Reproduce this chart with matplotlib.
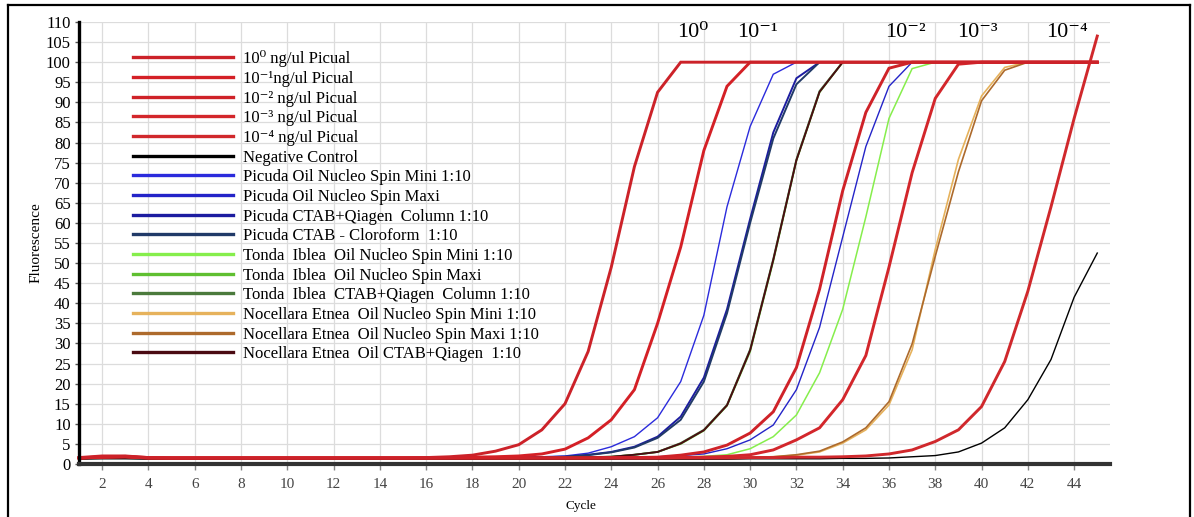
import matplotlib
matplotlib.use('Agg')
import matplotlib.pyplot as plt
from matplotlib.lines import Line2D

plt.rcParams['font.family'] = ['Liberation Serif', 'DejaVu Serif']

# qPCR amplification curves, cycles 1..45
cycles = list(range(1, 46))

picual_0 = [1.6, 2.0, 2.0, 1.6, 1.5, 1.5, 1.5, 1.5, 1.5, 1.5, 1.5, 1.5, 1.5, 1.5, 1.5,
            1.6, 1.8, 2.2, 3.2, 4.8, 8.5, 15.0, 28.0, 49.0, 74.0, 92.5, 100, 100, 100, 100,
            100, 100, 100, 100, 100, 100, 100, 100, 100, 100, 100, 100, 100, 100, 100]
picual_1 = [1.5, 1.8, 1.9, 1.6, 1.5, 1.5, 1.5, 1.5, 1.5, 1.5, 1.5, 1.5, 1.5, 1.5, 1.5,
            1.5, 1.6, 1.7, 1.8, 2.0, 2.5, 3.7, 6.5, 11.0, 18.5, 35.0, 54.0, 78.0, 94.0, 100,
            100, 100, 100, 100, 100, 100, 100, 100, 100, 100, 100, 100, 100, 100, 100]
picual_2 = [1.5, 1.7, 1.8, 1.5, 1.5, 1.5, 1.5, 1.5, 1.5, 1.5, 1.5, 1.5, 1.5, 1.5, 1.5,
            1.5, 1.5, 1.5, 1.5, 1.5, 1.5, 1.5, 1.5, 1.6, 1.6, 1.7, 2.2, 3.0, 4.7, 7.7,
            13.0, 24.0, 43.5, 68.0, 87.5, 98.5, 100, 100, 100, 100, 100, 100, 100, 100, 100]
picual_3 = [1.5, 1.7, 1.8, 1.5, 1.5, 1.5, 1.5, 1.5, 1.5, 1.5, 1.5, 1.5, 1.5, 1.5, 1.5,
            1.5, 1.5, 1.5, 1.5, 1.5, 1.5, 1.5, 1.5, 1.5, 1.5, 1.5, 1.6, 1.7, 1.9, 2.3,
            3.5, 6.0, 9.0, 16.0, 27.0, 49.0, 72.5, 91.0, 99.5, 100, 100, 100, 100, 100, 100]
picual_4 = [1.5, 1.7, 1.8, 1.5, 1.5, 1.5, 1.5, 1.5, 1.5, 1.5, 1.5, 1.5, 1.5, 1.5, 1.5,
            1.5, 1.5, 1.5, 1.5, 1.5, 1.5, 1.5, 1.5, 1.5, 1.5, 1.5, 1.5, 1.5, 1.5, 1.6,
            1.6, 1.7, 1.7, 1.8, 2.0, 2.5, 3.5, 5.6, 8.5, 14.3, 25.5, 43.0, 64.0, 86.0, 106.5]
neg_control = [1.2, 1.3, 1.3, 1.2, 1.2, 1.2, 1.2, 1.2, 1.2, 1.2, 1.2, 1.2, 1.2, 1.2, 1.2,
               1.2, 1.2, 1.2, 1.2, 1.2, 1.2, 1.2, 1.2, 1.2, 1.2, 1.2, 1.2, 1.2, 1.2, 1.3,
               1.3, 1.3, 1.3, 1.4, 1.4, 1.5, 1.8, 2.1, 3.0, 5.2, 9.0, 16.0, 26.0, 41.5, 52.5]
picuda_mini = [1.4, 1.6, 1.7, 1.4, 1.4, 1.4, 1.4, 1.4, 1.4, 1.4, 1.4, 1.4, 1.4, 1.4, 1.4,
               1.4, 1.5, 1.5, 1.6, 1.7, 1.8, 2.0, 2.7, 4.3, 6.8, 11.5, 20.5, 37.0, 64.0, 84.0,
               97.0, 100, 100, 100, 100, 100, 100, 100, 100, 100, 100, 100, 100, 100, 100]
picuda_maxi = [1.4, 1.6, 1.7, 1.4, 1.4, 1.4, 1.4, 1.4, 1.4, 1.4, 1.4, 1.4, 1.4, 1.4, 1.4,
               1.4, 1.4, 1.4, 1.4, 1.5, 1.5, 1.5, 1.6, 1.6, 1.7, 1.8, 2.1, 2.5, 3.8, 6.0,
               9.7, 18.5, 34.0, 56.5, 79.0, 94.0, 100, 100, 100, 100, 100, 100, 100, 100, 100]
picuda_column = [1.4, 1.6, 1.7, 1.4, 1.4, 1.4, 1.4, 1.4, 1.4, 1.4, 1.4, 1.4, 1.4, 1.4, 1.4,
                 1.4, 1.5, 1.5, 1.5, 1.6, 1.7, 1.8, 2.3, 3.0, 4.3, 6.8, 11.8, 21.5, 38.5, 61.0,
                 82.5, 96.0, 100, 100, 100, 100, 100, 100, 100, 100, 100, 100, 100, 100, 100]
picuda_cloroform = [1.4, 1.6, 1.7, 1.4, 1.4, 1.4, 1.4, 1.4, 1.4, 1.4, 1.4, 1.4, 1.4, 1.4, 1.4,
                    1.4, 1.5, 1.5, 1.5, 1.6, 1.7, 1.8, 2.2, 2.9, 4.1, 6.5, 11.0, 20.5, 37.5, 60.0,
                    81.0, 94.5, 100, 100, 100, 100, 100, 100, 100, 100, 100, 100, 100, 100, 100]
tonda_mini = [1.4, 1.6, 1.7, 1.4, 1.4, 1.4, 1.4, 1.4, 1.4, 1.4, 1.4, 1.4, 1.4, 1.4, 1.4,
              1.4, 1.4, 1.4, 1.4, 1.4, 1.4, 1.5, 1.5, 1.5, 1.5, 1.6, 1.7, 1.9, 2.3, 3.8,
              6.8, 12.2, 22.7, 38.5, 61.5, 86.0, 98.4, 100, 100, 100, 100, 100, 100, 100, 100]
tonda_maxi = [1.4, 1.6, 1.7, 1.4, 1.4, 1.4, 1.4, 1.4, 1.4, 1.4, 1.4, 1.4, 1.4, 1.4, 1.4,
              1.4, 1.4, 1.4, 1.5, 1.5, 1.5, 1.6, 1.7, 1.8, 2.3, 3.0, 5.0, 8.3, 14.5, 28.0,
              50.5, 75.5, 92.5, 100, 100, 100, 100, 100, 100, 100, 100, 100, 100, 100, 100]
tonda_column = [1.4, 1.6, 1.7, 1.4, 1.4, 1.4, 1.4, 1.4, 1.4, 1.4, 1.4, 1.4, 1.4, 1.4, 1.4,
                1.4, 1.4, 1.4, 1.5, 1.5, 1.5, 1.6, 1.7, 1.8, 2.3, 3.0, 5.2, 8.5, 14.7, 28.5,
                51.0, 75.8, 92.8, 100, 100, 100, 100, 100, 100, 100, 100, 100, 100, 100, 100]
nocellara_mini = [1.4, 1.6, 1.7, 1.4, 1.4, 1.4, 1.4, 1.4, 1.4, 1.4, 1.4, 1.4, 1.4, 1.4, 1.4,
                  1.4, 1.4, 1.4, 1.4, 1.4, 1.4, 1.4, 1.4, 1.4, 1.5, 1.5, 1.5, 1.6, 1.6, 1.7,
                  1.8, 2.2, 3.0, 5.2, 8.5, 14.7, 28.4, 53.4, 75.8, 91.6, 98.7, 100, 100, 100, 100]
nocellara_maxi = [1.4, 1.6, 1.7, 1.4, 1.4, 1.4, 1.4, 1.4, 1.4, 1.4, 1.4, 1.4, 1.4, 1.4, 1.4,
                  1.4, 1.4, 1.4, 1.4, 1.4, 1.4, 1.4, 1.4, 1.4, 1.5, 1.5, 1.5, 1.6, 1.6, 1.7,
                  1.8, 2.3, 3.2, 5.5, 9.0, 15.5, 29.9, 51.7, 72.7, 90.4, 98.0, 100, 100, 100, 100]
nocellara_ctab = [1.5, 1.7, 1.8, 1.5, 1.5, 1.5, 1.5, 1.5, 1.5, 1.5, 1.5, 1.5, 1.5, 1.5, 1.5,
                  1.5, 1.5, 1.5, 1.5, 1.5, 1.5, 1.6, 1.7, 1.8, 2.3, 3.0, 5.1, 8.4, 14.6, 28.3,
                  50.8, 75.6, 92.6, 100, 100, 100, 100, 100, 100, 100, 100, 100, 100, 100, 100]

labels = ['10⁰ ng/ul Picual',
          '10⁻¹ng/ul Picual',
          '10⁻² ng/ul Picual',
          '10⁻³ ng/ul Picual',
          '10⁻⁴ ng/ul Picual',
          'Negative Control',
          'Picuda Oil Nucleo Spin Mini 1:10',
          'Picuda Oil Nucleo Spin Maxi',
          'Picuda CTAB+Qiagen  Column 1:10',
          'Picuda CTAB - Cloroform  1:10',
          'Tonda  Iblea  Oil Nucleo Spin Mini 1:10',
          'Tonda  Iblea  Oil Nucleo Spin Maxi',
          'Tonda  Iblea  CTAB+Qiagen  Column 1:10',
          'Nocellara Etnea  Oil Nucleo Spin Mini 1:10',
          'Nocellara Etnea  Oil Nucleo Spin Maxi 1:10',
          'Nocellara Etnea  Oil CTAB+Qiagen  1:10']
series = [picual_0, picual_1, picual_2, picual_3, picual_4, neg_control,
          picuda_mini, picuda_maxi, picuda_column, picuda_cloroform,
          tonda_mini, tonda_maxi, tonda_column,
          nocellara_mini, nocellara_maxi, nocellara_ctab]
colors = ['#cc2229', '#d42026', '#cf2228', '#d3262b', '#d0282c', '#000000',
          '#2b2bdc', '#2424c8', '#1c1ca0', '#213a68',
          '#86ee4c', '#5fbf30', '#4b7a3c',
          '#e6b25c', '#ad6a2c', '#4a0a12']
widths = [2.1, 2.1, 2.1, 2.1, 2.1, 1.0,
          1.0, 1.0, 1.4, 1.4,
          1.1, 1.3, 1.4,
          1.2, 1.2, 1.3]
# drawing order (reds on top of the rest)
order = [6, 7, 8, 9, 10, 11, 12, 13, 14, 5, 15, 4, 3, 2, 1, 0]

peak_labels = ['10⁰', '10⁻¹', '10⁻²', '10⁻³', '10⁻⁴']
peak_x = [27.5, 30.3, 36.7, 39.8, 43.7]

fig = plt.figure(figsize=(11.94, 5.17), dpi=100)
ax = fig.add_axes([79 / 1194, 1 - 464 / 517, (1110 - 79) / 1194, 442 / 517])

handles = {}
for i in order:
    ln, = ax.plot(cycles, series[i], color=colors[i], lw=widths[i], label=labels[i],
                  solid_joinstyle='miter', clip_on=False)
    handles[i] = ln

ax.set_xlim(1, 45.55)
ax.set_ylim(0, 110)
ax.set_xticks(range(2, 45, 2))
ax.set_yticks(range(0, 111, 5))
ax.grid(True, color='#dcdcdc', lw=0.9)
ax.set_axisbelow(True)
for s in ['top', 'right']:
    ax.spines[s].set_visible(False)
ax.spines['left'].set_linewidth(2.4)
ax.spines['left'].set_color('black')
ax.spines['bottom'].set_linewidth(3)
ax.spines['bottom'].set_color('#333333')
ax.tick_params(axis='x', length=4, width=1, color='#888888', labelsize=11,
               labelcolor='#444444', pad=6)
ax.tick_params(axis='y', length=3, width=1, color='#555555', labelsize=12, pad=3)

ax.set_xlabel('Cycle', fontsize=9.5)
ax.xaxis.set_label_coords(0.487, -0.082)
ax.set_ylabel('Fluorescence', fontsize=11)
ax.yaxis.set_label_coords(-0.035, 0.5)

for txt, xp in zip(peak_labels, peak_x):
    ax.text(xp, 107.5, txt, fontsize=16, ha='center', va='center')

leg = ax.legend([handles[i] for i in range(16)], labels, loc='upper left',
                bbox_to_anchor=(0.052, 0.936), frameon=False, fontsize=12,
                handlelength=6.0, handletextpad=0.6, labelspacing=0.22,
                borderpad=0, borderaxespad=0)
for ln in leg.get_lines():
    ln.set_linewidth(2.4)

# outer frame of the figure
for xs, ys in [([8, 8], [0, 5]), ([8, 1190], [5, 5]), ([1190, 1190], [5, 0])]:
    fig.add_artist(Line2D([x / 1194 for x in xs], [1 - y / 517 if y else 0 for y in ys],
                          transform=fig.transFigure, color='black', lw=1.6))

fig.savefig('out.png', dpi=100)
